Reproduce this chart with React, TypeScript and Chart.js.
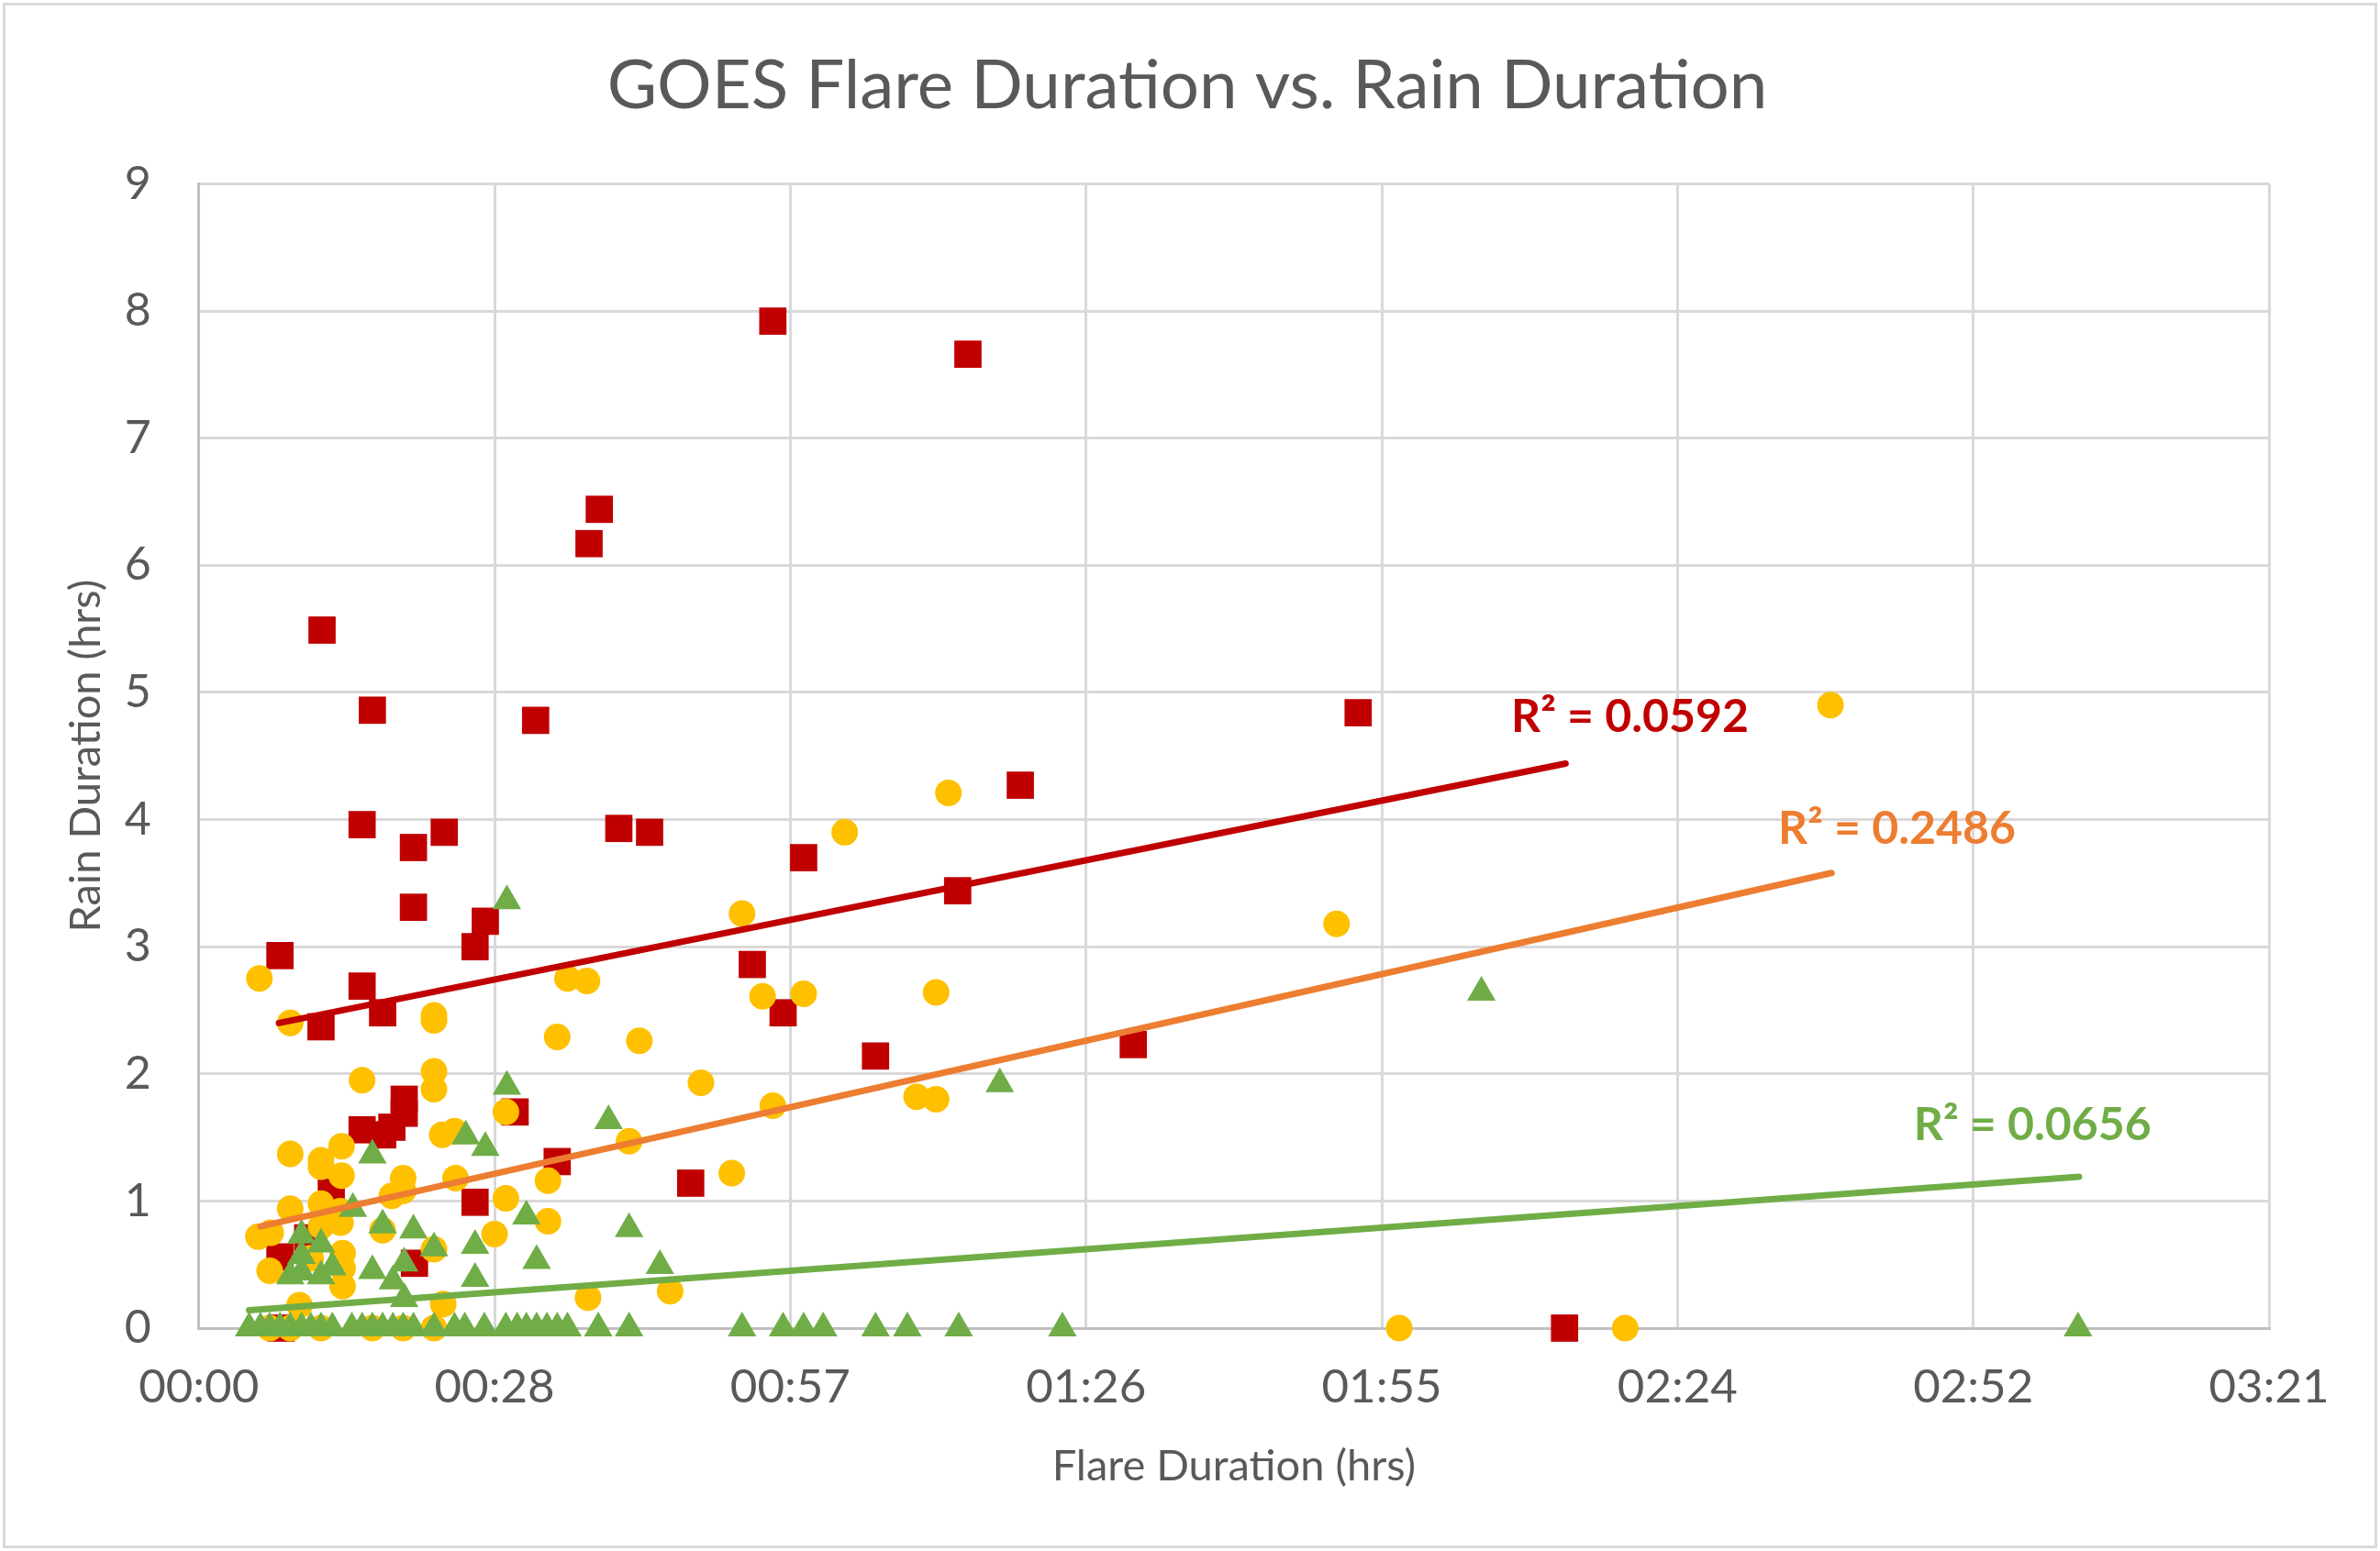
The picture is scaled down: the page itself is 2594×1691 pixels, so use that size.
import { useEffect, useRef } from "react"
import { Chart, registerables, type ChartConfiguration, type Plugin } from "chart.js"

Chart.register(...registerables)

// flare duration in minutes, rain duration in hours
const RED_X = [55.9, 74.9, 39.0, 38.0, 12.0, 16.9, 32.8, 112.9, 80.0, 15.9, 23.9, 20.9, 40.9, 43.9, 58.9, 73.9, 20.9, 27.9, 26.9, 7.9, 53.9, 15.9, 17.9, 11.9, 56.9, 65.9, 91.0, 20.0, 20.0, 30.8, 18.8, 15.9, 17.9, 34.9, 47.9, 12.9, 26.9, 10.6, 7.9, 21.0, 133.0, 8.0]
const RED_Y = [7.92, 7.66, 6.44, 6.17, 5.49, 4.86, 4.78, 4.84, 4.27, 3.96, 3.90, 3.78, 3.93, 3.90, 3.70, 3.44, 3.31, 3.20, 3.00, 2.93, 2.86, 2.69, 2.48, 2.37, 2.48, 2.14, 2.23, 1.80, 1.69, 1.70, 1.58, 1.56, 1.52, 1.31, 1.14, 1.07, 0.99, 0.71, 0.56, 0.51, 0, 0]

const YEL_X = [158.9, 73.0, 62.9, 52.9, 110.8, 5.9, 35.9, 37.8, 71.8, 54.9, 58.9, 22.9, 22.9, 8.9, 34.9, 42.9, 22.9, 15.9, 48.9, 22.9, 69.9, 71.8, 55.9, 29.9, 24.9, 23.7, 41.9, 13.9, 8.9, 11.9, 11.9, 51.9, 13.9, 19.9, 25.0, 34.0, 19.9, 18.8, 29.9, 11.9, 8.9, 13.8, 34.0, 13.8, 11.9, 17.9, 7.0, 28.8, 5.8, 22.9, 14.0, 10.9, 14.0, 6.9, 14.0, 45.9, 37.9, 9.8, 23.8, 116.9, 138.9, 6.9, 8.9, 11.9, 16.9, 19.9, 22.9]
const YEL_Y = [4.90, 4.21, 3.90, 3.26, 3.18, 2.75, 2.75, 2.73, 2.64, 2.61, 2.63, 2.46, 2.42, 2.40, 2.29, 2.26, 2.02, 1.95, 1.93, 1.88, 1.82, 1.80, 1.75, 1.70, 1.55, 1.52, 1.47, 1.43, 1.37, 1.32, 1.27, 1.22, 1.20, 1.18, 1.18, 1.16, 1.08, 1.04, 1.02, 0.98, 0.94, 0.92, 0.84, 0.83, 0.80, 0.77, 0.75, 0.74, 0.72, 0.62, 0.59, 0.55, 0.47, 0.45, 0.33, 0.29, 0.24, 0.18, 0.19, 0, 0, 0, 0, 0, 0, 0, 0]

const GRN_X = [124.9, 78.0, 30.0, 30.0, 39.9, 26.0, 27.9, 16.9, 15.0, 31.9, 17.9, 41.9, 20.9, 10.0, 11.9, 26.9, 22.9, 10.0, 32.9, 20.0, 44.9, 13.0, 16.9, 10.0, 8.9, 11.9, 26.9, 18.9, 20.0,
  4.9, 6.0, 6.9, 7.9, 8.9, 10.0, 10.9, 11.9, 13.0, 14.9, 15.9, 16.9, 17.9, 18.9, 19.9, 20.9, 22.9, 24.9, 25.9, 27.8, 29.9, 31.0, 31.9, 32.9, 33.9, 34.9, 35.9, 38.9, 41.9, 52.9, 56.9, 58.9, 60.8, 65.9, 69.0, 74.0, 84.1, 183.0]
const GRN_Y = [2.64, 1.92, 3.36, 1.90, 1.63, 1.51, 1.42, 1.36, 0.94, 0.88, 0.81, 0.78, 0.77, 0.73, 0.66, 0.65, 0.63, 0.57, 0.53, 0.51, 0.49, 0.48, 0.45, 0.44, 0.41, 0.41, 0.39, 0.37, 0.23,
  0, 0, 0, 0, 0, 0, 0, 0, 0, 0, 0, 0, 0, 0, 0, 0, 0, 0, 0, 0, 0, 0, 0, 0, 0, 0, 0, 0, 0, 0, 0, 0, 0, 0, 0, 0, 0, 0]

// linear trendlines: [start, end]
const RED_TREND_X = [7.8, 133.1]
const RED_TREND_Y = [2.40, 4.44]
const ORG_TREND_X = [6.0, 159.0]
const ORG_TREND_Y = [0.80, 3.58]
const GRN_TREND_X = [4.9, 183.1]
const GRN_TREND_Y = [0.14, 1.19]

const R2_TEXT = ["R² = 0.0592", "R² = 0.2486", "R² = 0.0656"]
const R2_X = [127.8, 153.8, 167.0]
const R2_Y = [4.69, 3.81, 1.48]

const TITLE = 'GOES Flare Duration vs. Rain Duration'
const X_MAX = 201.6
const X_STEP = 28.8
const Y_MAX = 9

const RED = '#C00000'
const YELLOW = '#FFC000'
const GREEN = '#70AD47'
const ORANGE = '#ED7D31'
const TEXT = '#595959'
const FONT = 'Lato, "Noto Sans", sans-serif'

const pts = (xs: number[], ys: number[]) => xs.map((x, i) => ({ x, y: ys[i] }))

const fmtTime = (v: number) => {
  const m = Math.floor(v + 1e-6)
  return `${String(Math.floor(m / 60)).padStart(2, '0')}:${String(m % 60).padStart(2, '0')}`
}

// title centred on the whole canvas, plus the R² labels of the trendlines
const textPlugin: Plugin = {
  id: 'textPlugin',
  afterDatasetsDraw(chart) {
    const { ctx, scales } = chart
    ctx.save()
    ctx.font = `74.5px ${FONT}`
    ctx.fillStyle = TEXT
    ctx.textAlign = 'center'
    ctx.textBaseline = 'middle'
    ctx.fillText(TITLE, chart.width / 2 - 3, 94)

    const colors = [RED, ORANGE, GREEN]
    ctx.font = `bold 50px ${FONT}`
    ctx.textBaseline = 'alphabetic'
    ctx.textAlign = 'left'
    R2_TEXT.forEach((t, i) => {
      ctx.fillStyle = colors[i]
      ctx.fillText(t, scales.x.getPixelForValue(R2_X[i]), scales.y.getPixelForValue(R2_Y[i]))
    })
    ctx.restore()
  }
}

function ScatterChart() {
  const canvasRef = useRef<HTMLCanvasElement>(null)
  const chartRef = useRef<Chart | null>(null)

  useEffect(() => {
    if (!canvasRef.current) return
    chartRef.current?.destroy()

    const marker = (color: string, style: string, r: number) => ({
      pointStyle: style,
      pointRadius: r,
      pointHoverRadius: r,
      pointBackgroundColor: color,
      pointBorderColor: color,
      pointBorderWidth: 0,
      backgroundColor: color,
      borderColor: color,
      showLine: false,
      clip: false,
    })
    const trend = (color: string) => ({
      showLine: true,
      borderColor: color,
      borderWidth: 7,
      borderCapStyle: 'round' as const,
      pointRadius: 0,
      pointHoverRadius: 0,
      fill: false,
      clip: false,
    })

    const cfg: ChartConfiguration = {
      type: 'scatter',
      data: {
        datasets: [
          { label: 'Red trend', data: pts(RED_TREND_X, RED_TREND_Y), ...trend(RED), order: 0 },
          { label: 'Orange trend', data: pts(ORG_TREND_X, ORG_TREND_Y), ...trend(ORANGE), order: 0 },
          { label: 'Green trend', data: pts(GRN_TREND_X, GRN_TREND_Y), ...trend(GREEN), order: 0 },
          { label: 'Green', data: pts(GRN_X, GRN_Y), ...marker(GREEN, 'triangle', 18), order: 1 },
          { label: 'Yellow', data: pts(YEL_X, YEL_Y), ...marker(YELLOW, 'circle', 14.5), order: 2 },
          { label: 'Red', data: pts(RED_X, RED_Y), ...marker(RED, 'rect', 21), order: 3 },
        ] as any
      },
      options: {
        responsive: true,
        maintainAspectRatio: false,
        animation: false,
        layout: { padding: { top: 200.4, left: 20, right: 121, bottom: 43 } },
        plugins: {
          legend: { display: false },
          tooltip: { enabled: false },
          title: { display: false },
        },
        scales: {
          x: {
            type: 'linear',
            min: 0,
            max: X_MAX,
            afterFit: (s: any) => { s.height = 200 },
            ticks: {
              stepSize: X_STEP,
              callback: (v: any) => fmtTime(Number(v)),
              color: TEXT,
              font: { family: FONT, size: 51 },
              padding: 34,
              maxRotation: 0,
              autoSkip: false,
            },
            grid: { color: '#d9d9d9', lineWidth: 3, drawTicks: false },
            border: { display: true, color: '#bfbfbf', width: 3 },
            title: {
              display: true,
              text: 'Flare Duration (hrs)',
              color: TEXT,
              font: { family: FONT, size: 47, lineHeight: 1.2 },
              padding: { top: 0, bottom: 21 },
            },
          },
          y: {
            type: 'linear',
            min: 0,
            max: Y_MAX,
            afterFit: (s: any) => { s.width = 196.7 },
            ticks: {
              stepSize: 1,
              color: TEXT,
              font: { family: FONT, size: 50 },
              padding: 52,
            },
            grid: { color: '#d9d9d9', lineWidth: 3, drawTicks: false },
            border: { display: true, color: '#bfbfbf', width: 3 },
            title: {
              display: true,
              text: 'Rain Duration (hrs)',
              color: TEXT,
              font: { family: FONT, size: 47, lineHeight: 1.2 },
              padding: { top: 46, bottom: 0 },
            },
          },
        },
      },
      plugins: [textPlugin],
    }
    chartRef.current = new Chart(canvasRef.current, cfg)
    return () => { chartRef.current?.destroy() }
  }, [])

  return (
    <div style={{ position: 'absolute', left: 0, top: 0, width: 2594, height: 1691 }}>
      <canvas ref={canvasRef} />
    </div>
  )
}

export default function App() {
  return (
    <div style={{ position: 'fixed', left: 0, top: 0, width: 2594, height: 1691, background: '#fff', overflow: 'hidden' }}>
      <ScatterChart />
      <div style={{
        position: 'absolute', left: 3, top: 3, width: 2588, height: 1685,
        border: '3px solid #d9d9d9', boxSizing: 'border-box', pointerEvents: 'none'
      }} />
    </div>
  )
}
